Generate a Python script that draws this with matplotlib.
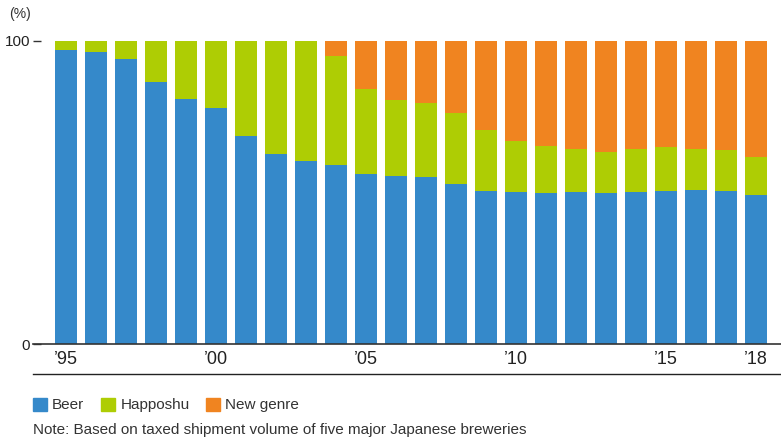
import matplotlib.pyplot as plt
import matplotlib.lines as mlines
import matplotlib.patches as mpatches
import numpy as np

plt.rcParams['font.family'] = ['Liberation Sans', 'DejaVu Sans']

years = list(range(1995, 2019))
beer = [97.0, 96.4, 94.1, 86.6, 80.9, 78.0, 68.6, 62.8, 60.4, 59.2, 56.2, 55.5,
        55.1, 52.8, 50.5, 50.2, 49.8, 50.2, 49.8, 50.2, 50.5, 50.8, 50.5, 49.2]
happoshu_top = [100, 100, 100, 100, 100, 100, 100, 100, 100, 95.1, 84.3, 80.6,
                79.5, 76.2, 70.6, 67.0, 65.3, 64.4, 63.4, 64.4, 65.0, 64.4, 64.0, 61.7]
happoshu = [t - b for t, b in zip(happoshu_top, beer)]
new_genre = [100 - t for t in happoshu_top]
tick_years = [1995, 2000, 2005, 2010, 2015, 2018]
tick_labels = ['’95', '’00', '’05', '’10', '’15', '’18']

c_beer = '#3589CA'
c_happo = '#AECD04'
c_new = '#F08420'

W, H = 781, 441
fig = plt.figure(figsize=(W / 100, H / 100), dpi=100)
ax = fig.add_axes([33 / W, (H - 344) / H, (W - 33) / W, 303 / H])

x = np.array(years)
bw = 22 / 30
ax.bar(x, beer, width=bw, color=c_beer, clip_on=False)
ax.bar(x, happoshu, width=bw, bottom=beer, color=c_happo, clip_on=False)
ax.bar(x, new_genre, width=bw, bottom=happoshu_top, color=c_new, clip_on=False)

ax.set_xlim(1995 - 1.1, 1995 + 23.83)
ax.set_ylim(0, 100)
for s in ['top', 'right', 'left']:
    ax.spines[s].set_visible(False)
ax.spines['bottom'].set_color('#333333')
ax.spines['bottom'].set_linewidth(1.2)

ax.set_yticks([0, 100])
ax.set_yticklabels(['0', '100'])
ax.tick_params(axis='y', direction='in', length=6, width=1, color='#333333',
               pad=2, labelsize=11, labelcolor='#222222')
ax.set_xticks(tick_years)
ax.set_xticklabels(tick_labels)
ax.tick_params(axis='x', length=0, pad=5, labelsize=13, labelcolor='#222222')

fig.text(9 / W, 1 - 14 / H, '(%)', fontsize=10, color='#333333', va='center')

fig.add_artist(mlines.Line2D([33 / W, 1], [1 - 374 / H, 1 - 374 / H],
                             color='#222222', linewidth=1.0))

handles = [mpatches.Patch(color=c_beer, label='Beer'),
           mpatches.Patch(color=c_happo, label='Happoshu'),
           mpatches.Patch(color=c_new, label='New genre')]
fig.legend(handles=handles, loc='center left', bbox_to_anchor=(33 / W, 1 - 405 / H),
           ncol=3, frameon=False, fontsize=11, handlelength=0.92, handleheight=0.92,
           handletextpad=0.33, columnspacing=1.1, borderpad=0, borderaxespad=0,
           labelcolor='#333333')

fig.text(33 / W, 1 - 430 / H, 'Note: Based on taxed shipment volume of five major Japanese breweries',
         fontsize=11, color='#333333', va='center')

fig.savefig('out.png', dpi=100)
